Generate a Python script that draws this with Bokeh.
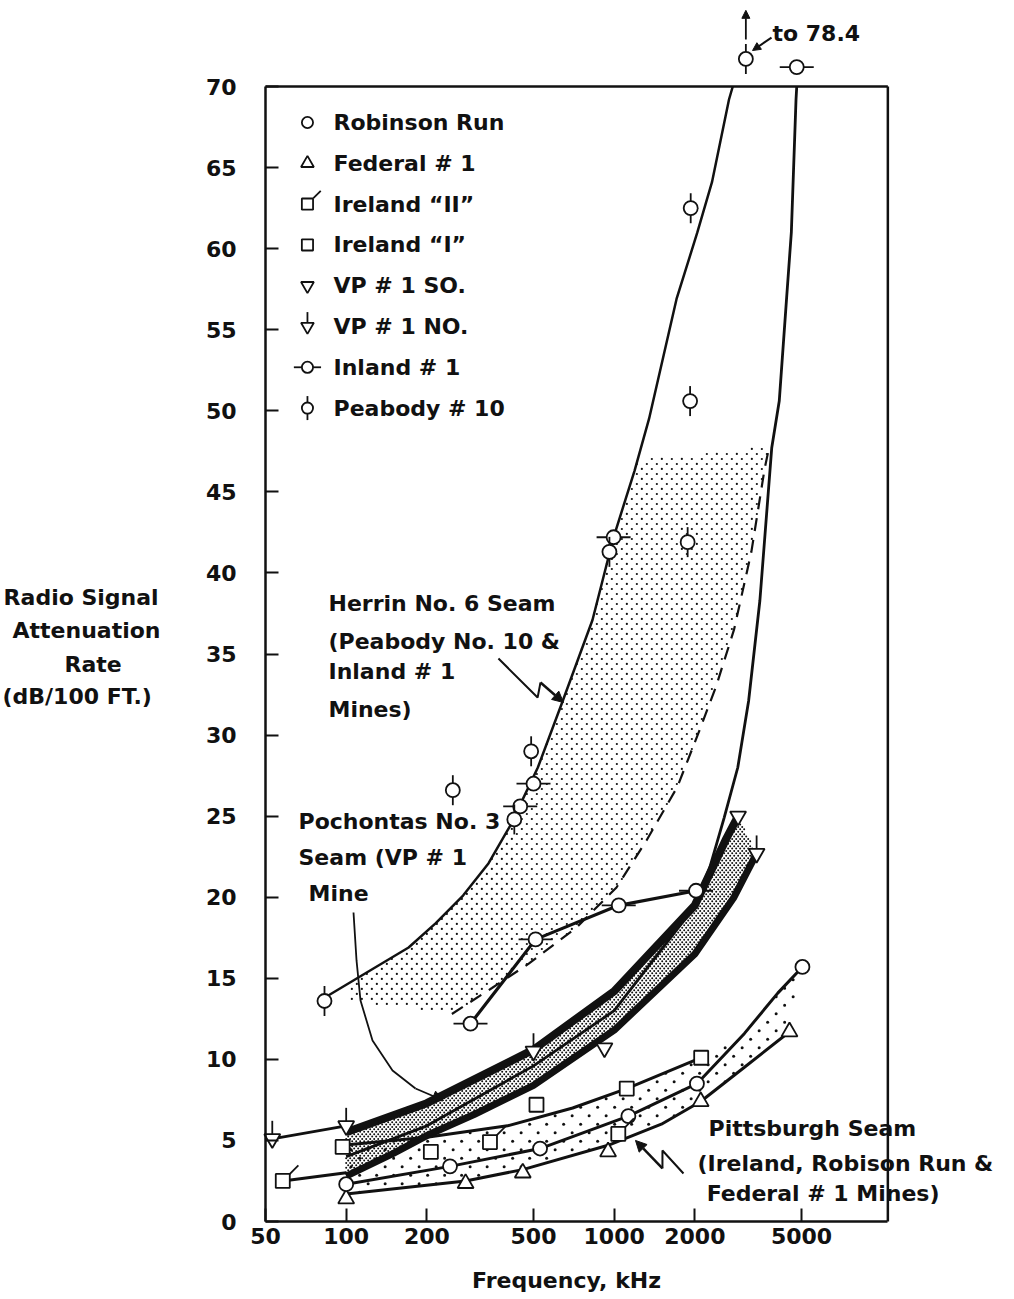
import numpy as np
from bokeh.plotting import figure
from bokeh.models import FixedTicker, CustomJSTickFormatter, Label, Arrow, NormalHead
from bokeh.embed import file_html
from bokeh.resources import INLINE

# ---------------- data (frequency kHz, attenuation dB/100 ft) ----------------
robinson_f = [100, 244, 529, 1130, 2036, 5040]
robinson_v = [2.3, 3.4, 4.5, 6.5, 8.5, 15.7]
federal_f = [100, 279, 456, 949, 2103, 4510]
federal_v = [1.4, 2.35, 3.0, 4.3, 7.4, 11.7]
ireland2_f = [58, 344, 1036]
ireland2_v = [2.5, 4.9, 5.4]
ireland1_f = [97, 207, 513, 1114, 2112]
ireland1_v = [4.6, 4.3, 7.2, 8.2, 10.1]
vpso_f = [920, 2900]
vpso_v = [10.7, 25.0]
vpno_f = [53, 100, 500, 3400]
vpno_v = [5.1, 5.9, 10.5, 22.7]
inland_f = [291, 509, 1040, 2020, 446, 500, 995, 4800]
inland_v = [12.2, 17.4, 19.5, 20.4, 25.6, 27.0, 42.2, 71.2]
peabody_f = [83, 250, 424, 490, 960, 1880, 1920, 1930, 3100]
peabody_v = [13.6, 26.6, 24.8, 29.0, 41.3, 41.9, 50.6, 62.5, 71.7]
peabody_offscale_text = "to 78.4"

# fitted curves
herrin_upper_f = [83, 171, 216, 273, 340, 409, 519, 636, 830, 995, 1191, 1349, 1709, 2043, 2317, 2682, 2770]
herrin_upper_v = [13.8, 16.9, 18.4, 20.1, 22.1, 24.4, 28.0, 31.9, 37.1, 42.2, 46.3, 49.5, 56.9, 61.0, 64.1, 69.2, 70.0]
herrin_lower_f = [248, 350, 480, 720, 1020, 1320, 1720, 2060, 2400, 2800, 3250, 3640, 3780]
herrin_lower_v = [12.8, 14.4, 15.9, 18.1, 20.6, 23.5, 26.8, 30.1, 33.0, 36.5, 41.3, 46.4, 47.7]
herrin_band_top_f = [105, 171, 216, 273, 340, 409, 519, 636, 830, 995, 1191, 1230, 2400, 3780]
herrin_band_top_v = [14.8, 16.9, 18.4, 20.1, 22.1, 24.4, 28.0, 31.9, 37.1, 42.2, 46.3, 47.0, 47.4, 47.8]
herrin_band_bot_f = [105, 170] + herrin_lower_f
herrin_band_bot_v = [13.5, 13.2] + herrin_lower_v

inland_line_f = [291, 509, 1040, 2020]
inland_line_v = [12.2, 17.4, 19.5, 20.4]

poca_curve_f = [100, 200, 500, 1000, 1970, 2270, 2572, 2892, 3174, 3497, 3871, 4130, 4397, 4582, 4770, 4800]
poca_curve_v = [4.0, 5.9, 9.6, 13.0, 19.3, 21.8, 24.9, 28.0, 32.1, 38.3, 47.7, 50.6, 56.9, 61.0, 69.2, 70.0]
poca_top_f = [100, 200, 500, 1000, 2000, 2600, 2900]
poca_top_v = [5.5, 7.3, 10.6, 14.2, 19.5, 23.5, 25.0]
poca_bot_f = [100, 150, 200, 300, 500, 1000, 2000, 2800, 3400]
poca_bot_v = [2.8, 4.2, 5.3, 6.6, 8.4, 11.8, 16.5, 20.0, 22.7]
vpno_line_f = [53, 100]
vpno_line_v = [5.1, 5.9]
ireland2_line_f = [58, 100]
ireland2_line_v = [2.5, 3.0]

pitt_top_f = [97, 200, 400, 700, 1114, 2112]
pitt_top_v = [4.7, 5.2, 5.9, 7.0, 8.2, 10.1]
robinson_curve_f = [100, 244, 529, 1130, 2036, 3063, 4085, 5040]
robinson_curve_v = [2.3, 3.4, 4.5, 6.5, 8.5, 11.6, 14.1, 15.7]
federal_curve_f = [100, 279, 456, 949, 1500, 2103, 3054, 4510]
federal_curve_v = [1.7, 2.5, 3.2, 4.7, 6.0, 7.4, 9.5, 11.7]

x_ticks = [50, 100, 200, 500, 1000, 2000, 5000]
y_ticks = list(range(0, 71, 5))

legend_labels = ["Robinson Run", "Federal # 1", "Ireland \u201cII\u201d", "Ireland \u201cI\u201d",
                 "VP # 1 SO.", "VP # 1 NO.", "Inland # 1", "Peabody # 10"]

# ---------------- view ----------------
W, H = 1008, 1295
AXIS_X, AXIS_Y = 50, 0            # where the axes sit (data units)
AXIS_X_PX, AXIS_Y_PX = 265, 1221  # where they sit on the canvas
PX_DEC, PX_UNIT = 268.0, 16.214   # scale of the axes
X_FRAME_MAX, Y_FRAME_MAX = 10500, 70
x_start = AXIS_X * 10 ** (-AXIS_X_PX / PX_DEC)
x_end = AXIS_X * 10 ** ((W - AXIS_X_PX) / PX_DEC)
y_start = AXIS_Y - (H - AXIS_Y_PX) / PX_UNIT
y_end = AXIS_Y + AXIS_Y_PX / PX_UNIT


def to_px(f, v):
    return (AXIS_X_PX + (np.log10(np.asarray(f, float)) - np.log10(AXIS_X)) * PX_DEC,
            AXIS_Y_PX - (np.asarray(v, float) - AXIS_Y) * PX_UNIT)


def from_px(px, py):
    return AXIS_X * 10 ** ((px - AXIS_X_PX) / PX_DEC), AXIS_Y + (AXIS_Y_PX - py) / PX_UNIT


def shift(f, v, dx, dy):
    return ([fi * 10 ** (dx / PX_DEC) for fi in f], [vi + dy / PX_UNIT for vi in v])


FONT = "DejaVu Sans"
INK = "#111111"

p = figure(width=W, height=H, x_axis_type="log",
           x_range=(x_start, x_end), y_range=(y_start, y_end),
           min_border_left=0, min_border_right=0, min_border_top=0, min_border_bottom=0,
           output_backend="svg", toolbar_location=None)
p.grid.visible = False
p.outline_line_color = None
p.background_fill_color = "white"
p.border_fill_color = "white"

p.xaxis.ticker = FixedTicker(ticks=x_ticks, minor_ticks=[])
p.xaxis.formatter = CustomJSTickFormatter(code="return tick.toFixed(0)")
p.yaxis.ticker = FixedTicker(ticks=y_ticks, minor_ticks=[])
p.xaxis.bounds = (AXIS_X, X_FRAME_MAX)
p.yaxis.bounds = (AXIS_Y, Y_FRAME_MAX)
p.xaxis.fixed_location = AXIS_Y
p.yaxis.fixed_location = AXIS_X
for ax in (p.xaxis, p.yaxis):
    ax.axis_line_width = 2.5
    ax.axis_line_color = INK
    ax.major_tick_in = 13
    ax.major_tick_out = 0
    ax.major_tick_line_width = 2
    ax.major_tick_line_color = INK
    ax.minor_tick_line_color = None
    ax.major_label_text_font = FONT
    ax.major_label_text_font_style = "bold"
    ax.major_label_text_font_size = "22px"
    ax.major_label_text_color = INK
p.yaxis.major_label_standoff = 29
p.xaxis.major_label_standoff = 6

# frame top / right
p.segment(x0=[AXIS_X, X_FRAME_MAX], y0=[Y_FRAME_MAX, AXIS_Y], x1=[X_FRAME_MAX, X_FRAME_MAX],
          y1=[Y_FRAME_MAX, Y_FRAME_MAX], line_color=INK, line_width=2.5)


# ---------------- stippled bands (dot texture clipped to each band outline) ----------------
def inside(px, py, polx, poly):
    res = np.zeros(px.shape, bool)
    j = len(polx) - 1
    for i in range(len(polx)):
        xi, yi, xj, yj = polx[i], poly[i], polx[j], poly[j]
        crosses = (yi > py) != (yj > py)
        xint = (xj - xi) * (py - yi) / ((yj - yi) if yj != yi else 1e-9) + xi
        res ^= crosses & (px < xint)
        j = i
    return res


def stipple(xs, ys, col, row, size):
    polx, poly = to_px(xs, ys)
    gy = np.arange(poly.min() + row / 2, poly.max(), row)
    gx = np.arange(polx.min() - col, polx.max() + col, col)
    X, Y = np.meshgrid(gx, gy)
    X = X + (np.arange(len(gy))[:, None] % 2) * col / 2
    X, Y = X.ravel(), Y.ravel()
    m = inside(X, Y, polx, poly)
    fx, fy = from_px(X[m], Y[m])
    p.scatter(fx, fy, marker="circle", size=size, fill_color=INK, line_color=None)


stipple(herrin_band_top_f + herrin_band_bot_f[::-1], herrin_band_top_v + herrin_band_bot_v[::-1], 10, 5, 2.2)
stipple(poca_top_f + poca_bot_f[::-1], poca_top_v + poca_bot_v[::-1], 4, 2.4, 2.0)
pitt_hi_f = pitt_top_f + robinson_curve_f[5:]
pitt_hi_v = pitt_top_v + robinson_curve_v[5:]
stipple(pitt_hi_f + federal_curve_f[::-1], pitt_hi_v + federal_curve_v[::-1], 17, 8.5, 3.0)

# ---------------- curves ----------------
p.line(herrin_upper_f, herrin_upper_v, line_color=INK, line_width=2.5)
p.line(herrin_lower_f, herrin_lower_v, line_color=INK, line_width=2.2, line_dash="13 9")
p.line(inland_line_f, inland_line_v, line_color=INK, line_width=3.2)
p.line(poca_curve_f, poca_curve_v, line_color=INK, line_width=2.8)
p.line(poca_top_f, poca_top_v, line_color=INK, line_width=8)
p.line(poca_bot_f, poca_bot_v, line_color=INK, line_width=7)
p.line(vpno_line_f, vpno_line_v, line_color=INK, line_width=2.8)
p.line(ireland2_line_f, ireland2_line_v, line_color=INK, line_width=3)
p.line(pitt_top_f, pitt_top_v, line_color=INK, line_width=3)
p.line(robinson_curve_f, robinson_curve_v, line_color=INK, line_width=3)
p.line(federal_curve_f, federal_curve_v, line_color=INK, line_width=3)

# ---------------- markers ----------------
MW = 1.8


def draw_series(kind, f, v, s=1.0):
    if kind == "robinson":
        p.scatter(f, v, marker="circle", size=14 * s, fill_color="white", line_color=INK, line_width=MW)
    elif kind == "federal":
        p.scatter(f, v, marker="triangle", size=16 * s, fill_color="white", line_color=INK, line_width=MW)
    elif kind == "ireland2":
        bx, by = shift(f, v, 7 * s + 4, 7 * s + 4)
        p.scatter(bx, by, marker="dash", size=13 * s, angle=np.pi / 4, line_color=INK, line_width=MW)
        p.scatter(f, v, marker="square", size=14 * s, fill_color="white", line_color=INK, line_width=MW)
    elif kind == "ireland1":
        p.scatter(f, v, marker="square", size=14 * s, fill_color="white", line_color=INK, line_width=MW)
    elif kind == "vpso":
        p.scatter(f, v, marker="inverted_triangle", size=16 * s, fill_color="white", line_color=INK, line_width=MW)
    elif kind == "vpno":
        bx, by = shift(f, v, 0, 11 * s)
        p.scatter(bx, by, marker="dash", size=14 * s, angle=np.pi / 2, line_color=INK, line_width=MW)
        p.scatter(f, v, marker="inverted_triangle", size=16 * s, fill_color="white", line_color=INK, line_width=MW)
    elif kind == "inland":
        p.scatter(f, v, marker="dash", size=34 * s, line_color=INK, line_width=MW)
        p.scatter(f, v, marker="circle", size=14 * s, fill_color="white", line_color=INK, line_width=MW)
    elif kind == "peabody":
        p.scatter(f, v, marker="dash", size=30 * s, angle=np.pi / 2, line_color=INK, line_width=MW)
        p.scatter(f, v, marker="circle", size=14 * s, fill_color="white", line_color=INK, line_width=MW)


draw_series("federal", federal_f, federal_v)
draw_series("robinson", robinson_f, robinson_v)
draw_series("ireland2", ireland2_f, ireland2_v)
draw_series("ireland1", ireland1_f, ireland1_v)
draw_series("vpso", vpso_f, vpso_v)
draw_series("vpno", vpno_f, vpno_v)
draw_series("inland", inland_f, inland_v)
draw_series("peabody", peabody_f, peabody_v)

# ---------------- legend (manual) ----------------
kinds = ["robinson", "federal", "ireland2", "ireland1", "vpso", "vpno", "inland", "peabody"]
LEG_MARK_X, LEG_TEXT_X = 71.7, 89.7
LEG_TOP, LEG_STEP = 67.78, 2.516
for i, (k, lab) in enumerate(zip(kinds, legend_labels)):
    yy = LEG_TOP - LEG_STEP * i
    draw_series(k, [LEG_MARK_X], [yy], s=0.8)
    p.add_layout(Label(x=LEG_TEXT_X, y=yy, text=lab, text_font=FONT, text_font_style="bold",
                       text_font_size="22px", text_color=INK, text_baseline="middle", text_align="left"))


def label(x, y, t, align="left", size="22px"):
    p.add_layout(Label(x=x, y=y, text=t, text_font=FONT, text_font_style="bold",
                       text_font_size=size, text_color=INK, text_baseline="middle", text_align=align))


# axis titles
for xx, yy, t in zip([5.27, 5.69, 8.89, 5.22], [38.49, 36.45, 34.35, 32.38],
                     ["Radio Signal", "Attenuation", "Rate", "(dB/100 FT.)"]):
    label(xx, yy, t)
label(664, -3.64, "Frequency, kHz", align="center")

# group annotations
for yy, t in zip([38.1, 35.8, 33.9, 31.6], ["Herrin No. 6 Seam", "(Peabody No. 10 &", "Inland # 1", "Mines)"]):
    label(85.9, yy, t)
label(66.4, 24.7, "Pochontas No. 3")
label(66.4, 22.45, "Seam (VP # 1")
label(72.4, 20.2, "Mine")
label(2250, 5.74, "Pittsburgh Seam")
label(2046, 3.58, "(Ireland, Robison Run &")
label(2213, 1.73, "Federal # 1 Mines)")
label(3898, 73.27, peabody_offscale_text)

# pointer arrows
head = lambda: NormalHead(size=11, fill_color=INK, line_color=INK)
p.line([370, 518, 531], [34.72, 32.32, 33.24], line_color=INK, line_width=2)
p.add_layout(Arrow(end=head(), x_start=531, y_start=33.24, x_end=647, y_end=32.01, line_color=INK, line_width=2.5))
p.line([1814, 1514, 1514], [2.96, 4.38, 3.27], line_color=INK, line_width=2)
p.add_layout(Arrow(end=head(), x_start=1514, y_start=3.27, x_end=1201, y_end=5.0, line_color=INK, line_width=2.5))
p.line([106.5, 109.3, 113.1, 125.4, 148.9, 181.4], [19.06, 16.10, 13.63, 11.16, 9.31, 8.20],
       line_color=INK, line_width=1.8)
p.add_layout(Arrow(end=head(), x_start=181.4, y_start=8.20, x_end=230.8, y_end=7.46, line_color=INK, line_width=1.8))
# off-scale pointer
p.add_layout(Arrow(end=NormalHead(size=8, fill_color=INK, line_color=INK), x_start=3864, y_start=73.02,
                   x_end=3283, y_end=72.22, line_color=INK, line_width=2))
p.add_layout(Arrow(end=NormalHead(size=8, fill_color=INK, line_color=INK), x_start=3100, y_start=72.9,
                   x_end=3100, y_end=74.7, line_color=INK, line_width=1.8))

open("out.html", "w").write(file_html(p, INLINE))
